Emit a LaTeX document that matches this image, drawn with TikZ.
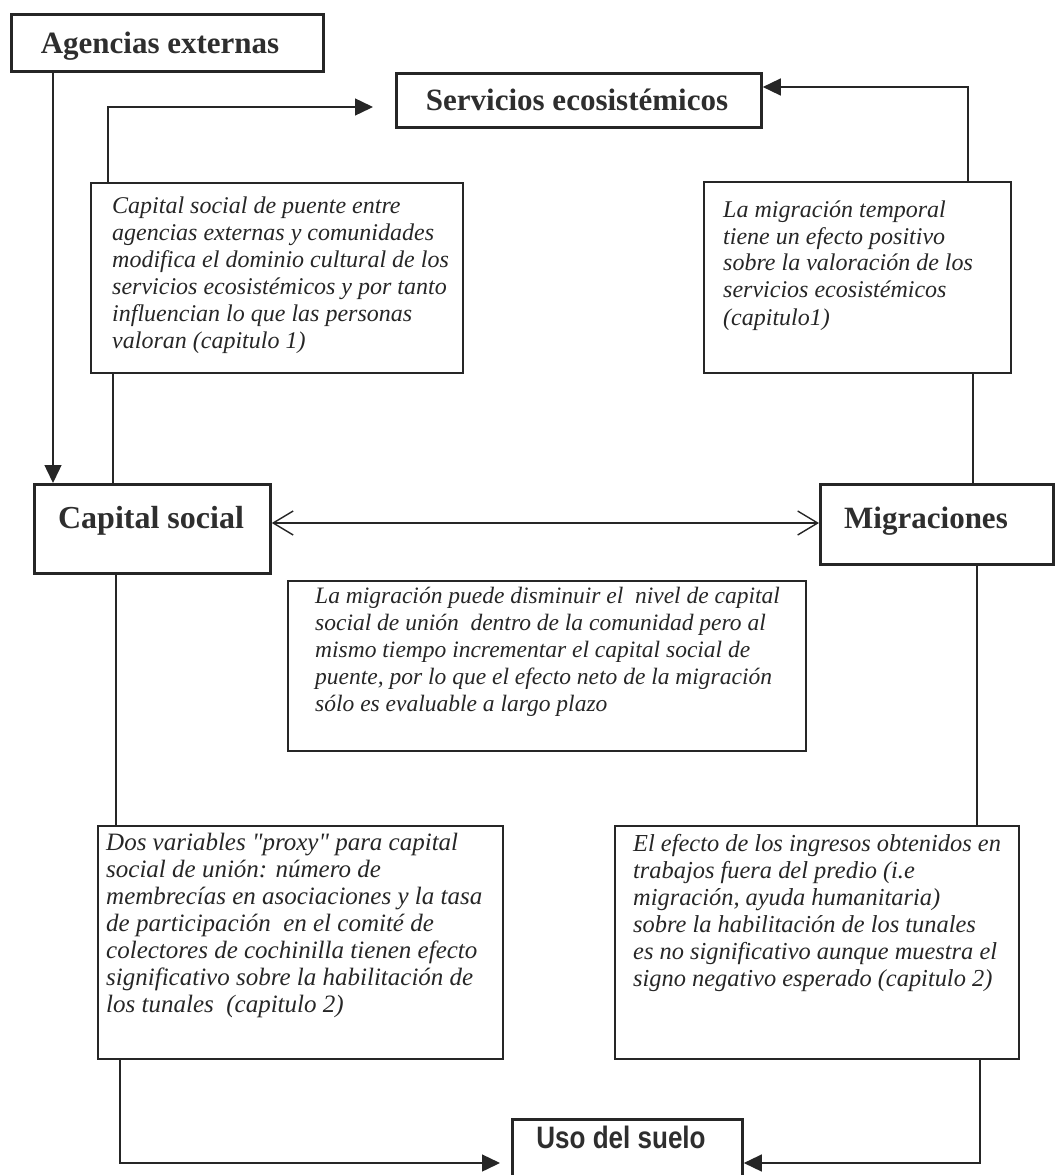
\documentclass[tikz,border=0pt]{standalone}
\usepackage{fontspec}
\setmainfont{Liberation Serif}
% same face without the TeX input mapping, so " stays a straight quote
\newfontfamily\plainserif{Liberation Serif}
\newfontfamily\narrowsans[FakeStretch=0.84]{Liberation Sans}
\newcommand{\stq}{{\plainserif\itshape"}}
\usetikzlibrary{arrows.meta}

\begin{document}
\begin{tikzpicture}[x=1pt,y=-1pt,
  titlebox/.style={draw=black!85, line width=2.8pt, rectangle, inner sep=0pt, anchor=north west},
  notebox/.style={draw=black!85, line width=1.8pt, rectangle, inner sep=0pt, anchor=north west},
  link/.style={draw=black!85, line width=1.4pt},
  head/.style={-{Triangle[length=18pt,width=17pt]}},
  barbs/.style={{Straight Barb[length=20pt,width=24pt,line width=1.4pt]}-{Straight Barb[length=20pt,width=24pt,line width=1.4pt]}},
  titletext/.style={font=\fontsize{31}{36}\selectfont\bfseries, text=black!82, inner sep=0pt, anchor=base},
  notetext/.style={text=black!85, align=left, inner sep=0pt, anchor=north west},
  notefont/.style={font=\fontsize{#1}{27}\selectfont\itshape},
]
\useasboundingbox (0,0) rectangle (1058,1175);
\clip (0,0) rectangle (1058,1175);

% ---- title boxes ----
\node[titlebox, minimum width=312pt, minimum height=57pt] (agencias) at (10,13) {};
\node[titletext] (agencias-t) at (160,53) {Agencias externas};

\node[titlebox, minimum width=365pt, minimum height=54pt] (servicios) at (395,72) {};
\node[titletext] (servicios-t) at (577,110) {Servicios ecosistémicos};

\node[titlebox, minimum width=236pt, minimum height=89pt] (capital) at (33,483) {};
\node[titletext, font=\fontsize{32}{36}\selectfont\bfseries] (capital-t) at (151,528) {Capital social};

\node[titlebox, minimum width=233pt, minimum height=80pt] (migr) at (819,483) {};
\node[titletext] (migr-t) at (926,528) {Migraciones};

\node[titlebox, minimum width=230pt, minimum height=75pt] (uso) at (511,1118) {};
\node[titletext, font=\fontsize{31}{36}\selectfont\narrowsans\bfseries] (uso-t) at (621,1148) {Uso del suelo};

% ---- note boxes ----
\node[notebox, minimum width=372pt, minimum height=190pt] (note1) at (90,182) {};
\node[notetext, notefont=24] (note1-t) at (112,197) {Capital social de puente entre\\
agencias externas y comunidades\\
modifica el dominio cultural de los\\
servicios ecosistémicos y por tanto\\
influencian lo que las personas\\
valoran (capitulo 1)};

\node[notebox, minimum width=307pt, minimum height=191pt] (note2) at (703,181) {};
\node[notetext, notefont=24] (note2-t) at (723,201) {La migración temporal\\[-0.5pt]
tiene un efecto positivo\\[-0.5pt]
sobre la valoración de los\\[-0.5pt]
servicios ecosistémicos\\[1.5pt]
(capitulo1)};

\node[notebox, minimum width=518pt, minimum height=170pt] (note3) at (287,580) {};
\node[notetext, notefont=23.5] (note3-t) at (315,587) {La migración puede disminuir el~ nivel de capital\\
social de unión~ dentro de la comunidad pero al\\
mismo tiempo incrementar el capital social de\\
puente, por lo que el efecto neto de la migración\\
sólo es evaluable a largo plazo};

\node[notebox, minimum width=405pt, minimum height=233pt] (note4) at (97,825) {};
\node[notetext, notefont=25] (note4-t) at (106,833) {Dos variables \stq proxy\stq\ para capital\\
social de unión: número de\\
membrecías en asociaciones y la tasa\\
de participación~ en el comité de\\
colectores de cochinilla tienen efecto\\
significativo sobre la habilitación de\\
los tunales~ (capitulo 2)};

\node[notebox, minimum width=404pt, minimum height=233pt] (note5) at (614,825) {};
\node[notetext, notefont=24.4] (note5-t) at (633,834) {El efecto de los ingresos obtenidos en\\
trabajos fuera del predio (i.e\\
migración, ayuda humanitaria)\\
sobre la habilitación de los tunales\\
es no significativo aunque muestra el\\
signo negativo esperado (capitulo 2)};

% ---- guide coordinates for the connector runs ----
\coordinate (xAg) at (53,0);
\coordinate (xUp) at (108,0);
\coordinate (xL1) at (113,0);
\coordinate (xL2) at (116,0);
\coordinate (xL3) at (120,0);
\coordinate (xRu) at (968,0);
\coordinate (xR1) at (973,0);
\coordinate (xR2) at (977,0);
\coordinate (xR3) at (980,0);
\coordinate (yRt) at (0,87);
\coordinate (yMid) at (0,523);
\coordinate (yLow) at (0,1163);
\coordinate (svcIn) at (373,107);
\coordinate (usoIn) at (500,1163);

% ---- connectors ----
\draw[link, head] (xAg |- agencias.south) -- (xAg |- capital.north);
\draw[link, head] (xUp |- note1.north) |- (svcIn);
\draw[link, head] (xRu |- note2.north) |- (servicios.east |- yRt);
\draw[link] (xL1 |- note1.south) -- (xL1 |- capital.north);
\draw[link] (xR1 |- note2.south) -- (xR1 |- migr.north);
\draw[link, barbs] (capital.east |- yMid) -- (migr.west |- yMid);
\draw[link] (xL2 |- capital.south) -- (xL2 |- note4.north);
\draw[link] (xR2 |- migr.south) -- (xR2 |- note5.north);
\draw[link, head] (xL3 |- note4.south) |- (usoIn);
\draw[link, head] (xR3 |- note5.south) |- (uso.east |- yLow);
\end{tikzpicture}
\end{document}
